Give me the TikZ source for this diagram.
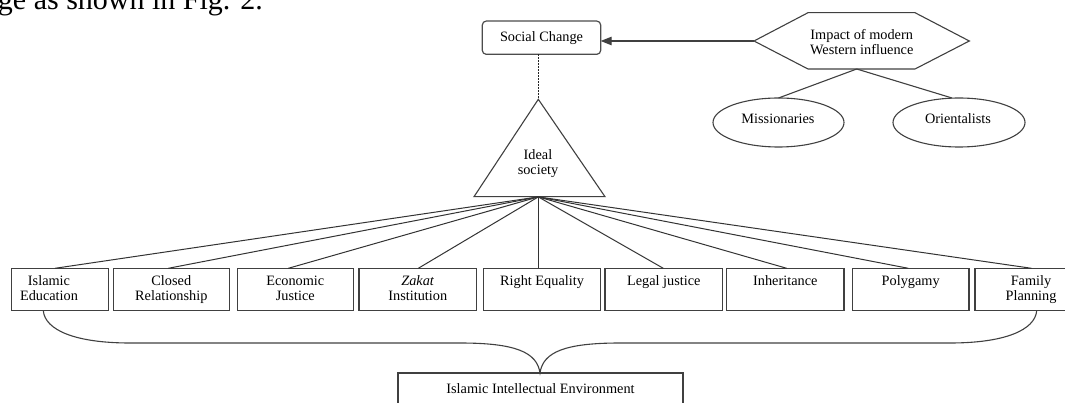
\documentclass[tikz,border=0pt]{standalone}
\usepackage{fontspec}
\setmainfont{Liberation Serif}
\usetikzlibrary{arrows.meta,shapes.geometric}
\begin{document}
\begin{tikzpicture}[x=1pt,y=-1pt,
  every node/.style={inner sep=0pt, outer sep=0pt},
  ln/.style={line width=1.1pt, draw=black!75},
  fan/.style={line width=1pt, draw=black!80},
  dotline/.style={line width=1.6pt, draw=black!85, dash pattern=on 1.4pt off 1.6pt},
  box/.style={draw=black!75, line width=1.5pt, minimum height=42.4pt},
  txt/.style={font=\fontsize{14.3}{15}\selectfont, align=center},
  lbl/.style={txt, anchor=north},
  ell/.style={ellipse, draw=black!75, line width=1.1pt, minimum width=131pt, minimum height=49pt},
  scbox/.style={draw=black!70, line width=1.2pt, rounded corners=4pt, minimum width=118.4pt, minimum height=33.3pt, txt}
]
\useasboundingbox (0,0) rectangle (1065,403);
\clip (0,0) rectangle (1065,403);

% fragment of running text
\node[anchor=base west, font=\fontsize{30}{32}\selectfont] (frag) at (-2,10) {ge as shown in Fig. 2.};

% top part
\node[scbox] (sc) at (541.5,37.7) {Social Change};

\coordinate (hL) at (754,41);
\coordinate (hR) at (969.3,41);
\coordinate (hB) at (856.7,69);
\draw[ln] (hL) -- (808,12.7) -- (915,12.7) -- (hR) -- (915,69) -- (808,69) -- cycle;
\node[txt] (hex) at (861.7,42) {Impact of modern\\Western influence};

\draw[ln, -{Triangle[length=11pt,width=8.5pt]}] (hL) -- (hL -| sc.east);

\node[ell] (mis) at (778.5,122.5) {};
\node[ell, minimum width=132pt] (ori) at (959,122.5) {};
\node[txt] (mist) at (778,119) {Missionaries};
\node[txt] (orit) at (958,119) {Orientalists};
\draw[ln] (hB) -- (mis.north);
\draw[ln] (hB) -- ([xshift=-7pt]ori.north);

% triangle
\coordinate (apex) at (538.3,99.3);
\coordinate (tL) at (474,196.7);
\coordinate (tR) at (605,196.7);
\coordinate (tb) at (538.3,196.9);
\draw[ln] (apex) -- (tR) -- (tL) -- cycle;
\node[txt] (ideal) at (538,164) {Ideal\\society};
\draw[dotline] (apex |- sc.south) -- (apex);

% bottom boxes
\node[box, minimum width=96.6pt] (b1) at (60,289.5) {};
\node[box, minimum width=116pt] (b2) at (171.3,289.5) {};
\node[box, minimum width=116pt] (b3) at (295.3,289.5) {};
\node[box, minimum width=117.7pt] (b4) at (417.8,289.5) {};
\node[box, minimum width=117.4pt] (b5) at (542,289.5) {};
\node[box, minimum width=117.7pt] (b6) at (663.8,289.5) {};
\node[box, minimum width=117.3pt] (b7) at (785.3,289.5) {};
\node[box, minimum width=116.7pt] (b8) at (910.7,289.5) {};
\node[box, minimum width=117pt] (b9) at (1033.5,289.5) {};

\node[lbl] (t1) at (49,276) {Islamic\\Education};
\node[lbl] (t2) at (171.3,276) {Closed\\Relationship};
\node[lbl] (t3) at (295.3,276) {Economic\\Justice};
\node[lbl] (t4) at (417.8,276) {\textit{Zakat}\\Institution};
\node[lbl] (t5) at (542,276) {Right Equality};
\node[lbl] (t6) at (663.8,276) {Legal justice};
\node[lbl] (t7) at (785.3,276) {Inheritance};
\node[lbl] (t8) at (910.7,276) {Polygamy};
\node[lbl] (t9) at (1031,276) {Family\\Planning};

\foreach \b/\s in {b1/-5, b2/-3, b3/-7, b4/0.5, b5/-3.7, b6/-0.5, b7/1.4, b8/-2.4, b9/-2}
  \draw[fan] (tb) -- ([xshift=\s pt]\b.north);

% bottom environment box and brace
\node[box, minimum width=285pt, anchor=north] (env) at (540.5,373) {};
\node[txt] (envt) at (540.5,388.5) {Islamic Intellectual Environment};
\coordinate (cusp) at (540,373);
\draw[ln] ([xshift=-16.7pt]b1.south) .. controls (45,330) and (75,343) .. (130,343)
  -- (460,343) .. controls (515,343) and (537,352) .. (cusp)
  .. controls (543,352) and (565,343) .. (620,343)
  -- (950,343) .. controls (1005,343) and (1035,330) .. ([xshift=3.2pt]b9.south);
\end{tikzpicture}
\end{document}
